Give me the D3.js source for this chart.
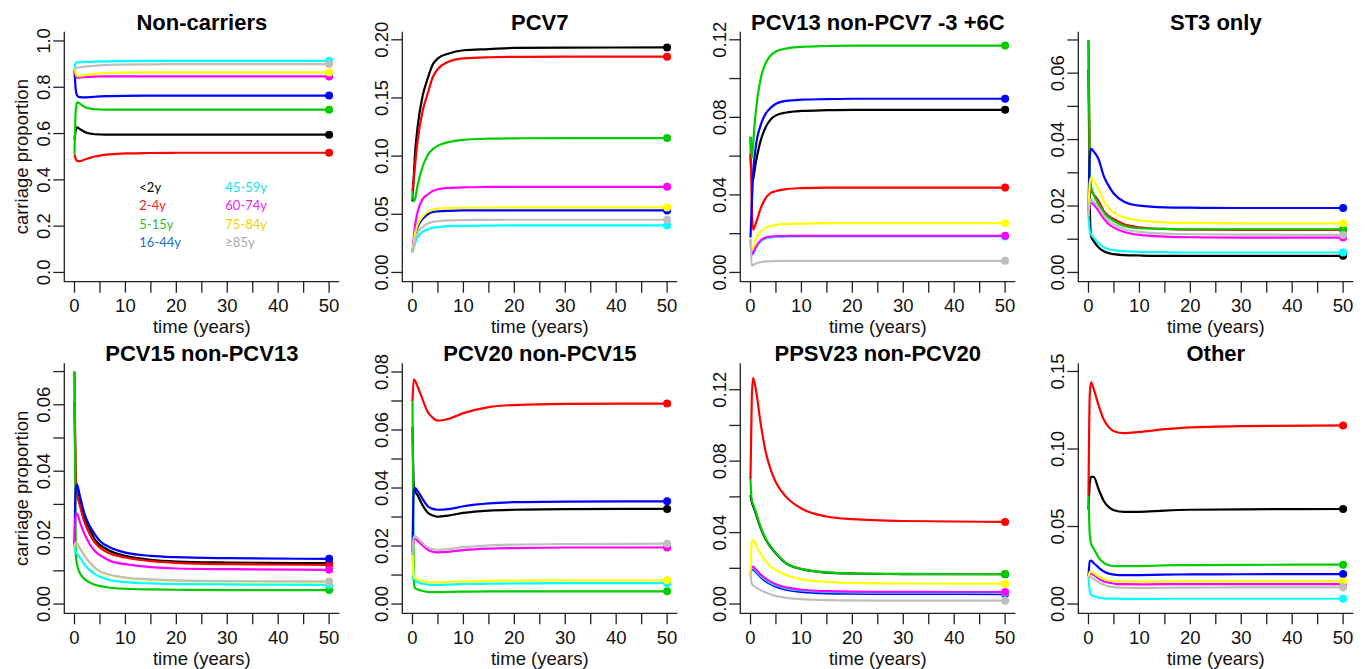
<!DOCTYPE html>
<meta charset="utf-8">
<head>
  <title>Carriage proportion by serotype group</title>
</head>
<style>
body { margin: 0; background: #fff; }
text { font-family: "Liberation Sans", Arial, sans-serif; fill: #111; }
.line { fill: none; stroke-width: 2.2px; stroke-linejoin: round; }
.box { fill: none; stroke: #222; stroke-width: 1.3px; }
.tick { stroke: #222; stroke-width: 1.3px; }
.ticklab { font-size: 18.5px; }
.axtitle { font-size: 18.5px; }
.title { font-size: 22px; font-weight: bold; fill: #000; }
.legend { font-family: Lato, "Open Sans", sans-serif; font-size: 13px; }
</style>
<body>

<script src="https://d3js.org/d3.v7.min.js"></script>
<script>

// time points (years) that every series below is read at
var years = [0, 0.25, 0.5, 1, 2, 3, 4, 5, 7, 10, 15, 20, 30, 50];

var ageGroups = ["<2y", "2-4y", "5-15y", "16-44y", "45-59y", "60-74y", "75-84y", "\u226585y"];
// R's old default palette, in plotting order
var lineColors = ["#000000", "#ff0000", "#00cd00", "#0000ff", "#00ffff", "#ff00ff", "#ffff00", "#bebebe"];
var legendColors = ["#000000", "#ee2222", "#33bb33", "#1f6fc0", "#11e3ee", "#ee22ee", "#e6d600", "#aaaaaa"];

var panelTitles = ["Non-carriers", "PCV7", "PCV13 non-PCV7 -3 +6C", "ST3 only",
                   "PCV15 non-PCV13", "PCV20 non-PCV15", "PPSV23 non-PCV20", "Other"];

// upper y limit of each panel (lower is 0)
var yMax = [1, 0.199, 0.1194, 0.0697, 0.0697, 0.0798, 0.1296, 0.1493];

var yTicks = [
  [0, 0.2, 0.4, 0.6, 0.8, 1.0],
  [0, 0.05, 0.10, 0.15, 0.20],
  [0, 0.02, 0.04, 0.06, 0.08, 0.10, 0.12],
  [0, 0.01, 0.02, 0.03, 0.04, 0.05, 0.06, 0.07],
  [0, 0.01, 0.02, 0.03, 0.04, 0.05, 0.06, 0.07],
  [0, 0.01, 0.02, 0.03, 0.04, 0.05, 0.06, 0.07, 0.08],
  [0, 0.02, 0.04, 0.06, 0.08, 0.10, 0.12],
  [0, 0.05, 0.10, 0.15]
];
var yLabels = [
  ["0.0", "0.2", "0.4", "0.6", "0.8", "1.0"],
  ["0.00", "0.05", "0.10", "0.15", "0.20"],
  ["0.00", "", "0.04", "", "0.08", "", "0.12"],
  ["0.00", "", "0.02", "", "0.04", "", "0.06", ""],
  ["0.00", "", "0.02", "", "0.04", "", "0.06", ""],
  ["0.00", "", "0.02", "", "0.04", "", "0.06", "", "0.08"],
  ["0.00", "", "0.04", "", "0.08", "", "0.12"],
  ["0.00", "0.05", "0.10", "0.15"]
];
var xTicks = [0, 5, 10, 15, 20, 25, 30, 35, 40, 45, 50];
var xLabels = ["0", "", "10", "", "20", "", "30", "", "40", "", "50"];

// series order: <2y, 2-4y, 5-15y, 16-44y, 45-59y, 60-74y, 75-84y, >=85y
var nonCarriers = [
  [0.573, 0.615, 0.627, 0.620, 0.607, 0.600, 0.597, 0.596, 0.595, 0.595, 0.595, 0.595, 0.595, 0.595],
  [0.510, 0.490, 0.482, 0.481, 0.488, 0.495, 0.501, 0.505, 0.510, 0.514, 0.516, 0.517, 0.517, 0.517],
  [0.510, 0.700, 0.735, 0.730, 0.715, 0.708, 0.705, 0.704, 0.703, 0.703, 0.703, 0.703, 0.703, 0.703],
  [0.874, 0.790, 0.765, 0.757, 0.756, 0.757, 0.759, 0.761, 0.762, 0.763, 0.764, 0.764, 0.764, 0.764],
  [0.881, 0.905, 0.908, 0.908, 0.909, 0.910, 0.911, 0.912, 0.912, 0.913, 0.914, 0.914, 0.914, 0.914],
  [0.881, 0.850, 0.842, 0.842, 0.844, 0.845, 0.846, 0.847, 0.847, 0.847, 0.847, 0.847, 0.847, 0.847],
  [0.881, 0.860, 0.850, 0.848, 0.852, 0.856, 0.858, 0.860, 0.862, 0.863, 0.864, 0.864, 0.864, 0.864],
  [0.881, 0.882, 0.884, 0.886, 0.889, 0.891, 0.893, 0.895, 0.897, 0.898, 0.899, 0.900, 0.900, 0.900]
];
var pcv7 = [
  [0.061, 0.082, 0.102, 0.125, 0.152, 0.167, 0.179, 0.184, 0.188, 0.191, 0.192, 0.193, 0.1933, 0.1934],
  [0.070, 0.080, 0.092, 0.113, 0.139, 0.154, 0.168, 0.175, 0.181, 0.184, 0.185, 0.1853, 0.1855, 0.1855],
  [0.070, 0.061, 0.063, 0.075, 0.091, 0.101, 0.106, 0.109, 0.112, 0.114, 0.115, 0.1153, 0.1155, 0.1155],
  [0.018, 0.025, 0.031, 0.039, 0.046, 0.050, 0.052, 0.0525, 0.053, 0.0533, 0.0533, 0.0533, 0.0533, 0.0533],
  [0.017, 0.021, 0.025, 0.030, 0.035, 0.037, 0.0385, 0.039, 0.0398, 0.040, 0.0403, 0.0404, 0.0404, 0.0404],
  [0.017, 0.030, 0.040, 0.052, 0.063, 0.067, 0.070, 0.0715, 0.0726, 0.0732, 0.0735, 0.0736, 0.0736, 0.0736],
  [0.017, 0.026, 0.033, 0.041, 0.048, 0.052, 0.054, 0.0548, 0.0553, 0.0556, 0.0558, 0.0559, 0.0559, 0.0559],
  [0.017, 0.023, 0.028, 0.034, 0.039, 0.042, 0.0435, 0.044, 0.0447, 0.045, 0.0452, 0.0453, 0.0453, 0.0453]
];
var pcv13 = [
  [0.061, 0.047, 0.048, 0.056, 0.068, 0.075, 0.079, 0.081, 0.0825, 0.0833, 0.0837, 0.0839, 0.0839, 0.0839],
  [0.070, 0.035, 0.022, 0.025, 0.033, 0.0385, 0.041, 0.042, 0.043, 0.0435, 0.0438, 0.0438, 0.0438, 0.0438],
  [0.070, 0.059, 0.066, 0.082, 0.100, 0.108, 0.112, 0.114, 0.1155, 0.1163, 0.1168, 0.117, 0.117, 0.117],
  [0.018, 0.035, 0.050, 0.064, 0.076, 0.082, 0.085, 0.087, 0.0885, 0.0891, 0.0894, 0.0896, 0.0896, 0.0896],
  [0.017, 0.009, 0.0095, 0.0125, 0.016, 0.0175, 0.018, 0.0183, 0.0185, 0.0186, 0.0186, 0.0186, 0.0186, 0.0186],
  [0.017, 0.0095, 0.010, 0.013, 0.0165, 0.018, 0.0185, 0.0187, 0.0188, 0.0189, 0.0189, 0.0189, 0.0189, 0.0189],
  [0.017, 0.012, 0.013, 0.017, 0.021, 0.023, 0.024, 0.0245, 0.025, 0.0252, 0.0254, 0.0254, 0.0254, 0.0254],
  [0.017, 0.0035, 0.0038, 0.0045, 0.0053, 0.0057, 0.0058, 0.0059, 0.006, 0.006, 0.006, 0.006, 0.006, 0.006]
];
var st3 = [
  [0.061, 0.020, 0.011, 0.0095, 0.0075, 0.0064, 0.0058, 0.0055, 0.0052, 0.0051, 0.005, 0.005, 0.005, 0.005],
  [0.070, 0.030, 0.0245, 0.0235, 0.0215, 0.0185, 0.017, 0.016, 0.0145, 0.0136, 0.0131, 0.0129, 0.0128, 0.0128],
  [0.070, 0.030, 0.026, 0.0235, 0.0205, 0.018, 0.0165, 0.0155, 0.014, 0.0133, 0.0131, 0.013, 0.013, 0.013],
  [0.018, 0.035, 0.0372, 0.0365, 0.034, 0.029, 0.026, 0.0237, 0.0213, 0.0201, 0.0196, 0.0195, 0.0194, 0.0194],
  [0.017, 0.0125, 0.0115, 0.0105, 0.0088, 0.0076, 0.007, 0.0067, 0.0064, 0.0062, 0.0061, 0.006, 0.006, 0.006],
  [0.017, 0.0205, 0.021, 0.0205, 0.0185, 0.0162, 0.0145, 0.0135, 0.0122, 0.0113, 0.0108, 0.0106, 0.0105, 0.0105],
  [0.017, 0.027, 0.0285, 0.0275, 0.025, 0.0215, 0.0193, 0.018, 0.0165, 0.0157, 0.0151, 0.0149, 0.0148, 0.0148],
  [0.017, 0.021, 0.022, 0.0213, 0.0195, 0.0172, 0.0155, 0.0145, 0.013, 0.0122, 0.0117, 0.0115, 0.0114, 0.0113]
];
var pcv15 = [
  [0.061, 0.038, 0.035, 0.032, 0.026, 0.0225, 0.0195, 0.0178, 0.016, 0.0145, 0.0133, 0.0128, 0.0125, 0.0123],
  [0.070, 0.036, 0.033, 0.030, 0.0245, 0.021, 0.0185, 0.017, 0.0152, 0.014, 0.0129, 0.0124, 0.012, 0.0118],
  [0.070, 0.015, 0.012, 0.0095, 0.0075, 0.0065, 0.0058, 0.0054, 0.0049, 0.0046, 0.0044, 0.0043, 0.0042, 0.0042],
  [0.018, 0.035, 0.036, 0.033, 0.027, 0.0235, 0.021, 0.019, 0.017, 0.0155, 0.0145, 0.0141, 0.0138, 0.0136],
  [0.017, 0.0157, 0.0152, 0.0143, 0.0118, 0.0102, 0.009, 0.0082, 0.0072, 0.0066, 0.0062, 0.006, 0.0059, 0.0058],
  [0.017, 0.027, 0.0272, 0.025, 0.021, 0.018, 0.016, 0.0147, 0.013, 0.012, 0.0111, 0.0107, 0.0105, 0.0103],
  [0.017, 0.0184, 0.0182, 0.0169, 0.0144, 0.0124, 0.0109, 0.0098, 0.0087, 0.0079, 0.0073, 0.007, 0.0068, 0.0067],
  [0.017, 0.0185, 0.0183, 0.017, 0.0145, 0.0125, 0.011, 0.0099, 0.0088, 0.008, 0.0074, 0.0071, 0.0069, 0.0068]
];
var pcv20 = [
  [0.061, 0.041, 0.039, 0.0375, 0.034, 0.0315, 0.0305, 0.0301, 0.0305, 0.0314, 0.0322, 0.0325, 0.0327, 0.0328],
  [0.070, 0.0775, 0.077, 0.075, 0.0705, 0.0662, 0.0642, 0.0632, 0.0638, 0.0658, 0.0679, 0.0686, 0.069, 0.0691],
  [0.070, 0.008, 0.0055, 0.005, 0.0045, 0.0042, 0.0041, 0.0041, 0.0042, 0.0043, 0.0044, 0.0044, 0.0044, 0.0044],
  [0.018, 0.039, 0.040, 0.039, 0.0362, 0.0337, 0.0328, 0.0325, 0.0327, 0.0337, 0.0347, 0.0351, 0.0353, 0.0354],
  [0.017, 0.0088, 0.0082, 0.0076, 0.007, 0.0067, 0.0066, 0.0066, 0.0067, 0.0069, 0.007, 0.0071, 0.0072, 0.0072],
  [0.017, 0.022, 0.0225, 0.0218, 0.0202, 0.0187, 0.018, 0.0178, 0.018, 0.0186, 0.0191, 0.0193, 0.0195, 0.0195],
  [0.017, 0.0098, 0.0092, 0.0085, 0.0079, 0.0076, 0.0075, 0.0075, 0.0076, 0.0078, 0.008, 0.0081, 0.0082, 0.0082],
  [0.017, 0.023, 0.0235, 0.0228, 0.021, 0.0195, 0.0189, 0.0187, 0.0189, 0.0196, 0.0202, 0.0205, 0.0207, 0.0208]
];
var ppsv23 = [
  [0.061, 0.057, 0.055, 0.051, 0.0425, 0.0362, 0.0318, 0.0283, 0.0228, 0.0196, 0.0176, 0.0171, 0.0168, 0.0167],
  [0.070, 0.115, 0.1265, 0.121, 0.101, 0.085, 0.075, 0.068, 0.060, 0.0535, 0.049, 0.0475, 0.0465, 0.046],
  [0.070, 0.058, 0.056, 0.052, 0.043, 0.0365, 0.032, 0.0285, 0.0229, 0.0197, 0.0177, 0.0172, 0.0169, 0.0168],
  [0.018, 0.0192, 0.0192, 0.018, 0.015, 0.0127, 0.011, 0.0097, 0.008, 0.0068, 0.006, 0.0058, 0.0057, 0.0056],
  [0.017, 0.0198, 0.0202, 0.0188, 0.0158, 0.0135, 0.0118, 0.0105, 0.0088, 0.0076, 0.0068, 0.0065, 0.0064, 0.0063],
  [0.017, 0.0205, 0.021, 0.0195, 0.0165, 0.0142, 0.0124, 0.0111, 0.0093, 0.008, 0.0072, 0.0069, 0.0068, 0.0067],
  [0.017, 0.035, 0.036, 0.0335, 0.028, 0.024, 0.021, 0.019, 0.0162, 0.0138, 0.0124, 0.0118, 0.0115, 0.0114],
  [0.017, 0.0115, 0.0105, 0.0095, 0.0078, 0.0064, 0.0053, 0.0045, 0.0035, 0.0027, 0.0022, 0.002, 0.0019, 0.0019]
];
var other = [
  [0.061, 0.078, 0.082, 0.082, 0.074, 0.0665, 0.0625, 0.0605, 0.0594, 0.0595, 0.0603, 0.0608, 0.0611, 0.0613],
  [0.070, 0.135, 0.143, 0.139, 0.128, 0.119, 0.114, 0.1115, 0.1102, 0.111, 0.1128, 0.114, 0.1147, 0.1152],
  [0.070, 0.045, 0.039, 0.036, 0.030, 0.0265, 0.025, 0.0245, 0.0244, 0.0245, 0.0249, 0.0251, 0.0253, 0.0254],
  [0.018, 0.0275, 0.028, 0.0265, 0.0235, 0.021, 0.0196, 0.019, 0.0186, 0.0187, 0.019, 0.0191, 0.0192, 0.0193],
  [0.017, 0.0085, 0.0062, 0.0052, 0.0042, 0.0037, 0.0035, 0.0034, 0.0033, 0.0033, 0.0034, 0.0034, 0.0034, 0.0034],
  [0.017, 0.0195, 0.0198, 0.0188, 0.0165, 0.0147, 0.0137, 0.0132, 0.0128, 0.0127, 0.0128, 0.0129, 0.0129, 0.0129],
  [0.017, 0.0205, 0.021, 0.020, 0.0178, 0.0162, 0.0152, 0.0147, 0.0144, 0.0144, 0.0145, 0.0146, 0.0146, 0.0146],
  [0.017, 0.0175, 0.0172, 0.0162, 0.0141, 0.0124, 0.0114, 0.0109, 0.0105, 0.0104, 0.0105, 0.0106, 0.0107, 0.0107]
];

var panels = [nonCarriers, pcv7, pcv13, st3, pcv15, pcv20, ppsv23, other];

// layout: 4 x 2 grid of R-style plot regions
var plotW = 275, plotH = 250, colStep = 338;
var rowTop = [31.7, 363.3];

var svg = d3.select("body").append("svg")
    .attr("width", 1366)
    .attr("height", 669);

panels.forEach(function(series, p) {
  var col = p % 4, row = Math.floor(p / 4);
  var left = 64.3 + col * colStep, top = rowTop[row];
  var right = left + plotW, bottom = top + plotH;

  // R pads the data range by 4% on each side
  var x = d3.scaleLinear().domain([-2, 52]).range([left, right]);
  var y = d3.scaleLinear().domain([-0.04 * yMax[p], 1.04 * yMax[p]]).range([bottom, top]);

  var g = svg.append("g");

  // L-shaped box
  g.append("path")
      .attr("class", "box")
      .attr("d", "M" + left + "," + top + "V" + bottom + "H" + right);

  // y axis ticks + rotated labels
  yTicks[p].forEach(function(v, i) {
    g.append("line").attr("class", "tick")
        .attr("x1", left - 11).attr("x2", left)
        .attr("y1", y(v)).attr("y2", y(v));
    if (yLabels[p][i]) {
      g.append("text").attr("class", "ticklab")
          .attr("text-anchor", "middle")
          .attr("transform", "translate(" + (left - 14) + "," + y(v) + ") rotate(-90)")
          .text(yLabels[p][i]);
    }
  });

  // x axis ticks + labels
  xTicks.forEach(function(t, i) {
    g.append("line").attr("class", "tick")
        .attr("x1", x(t)).attr("x2", x(t))
        .attr("y1", bottom).attr("y2", bottom + 11);
    if (xLabels[i]) {
      g.append("text").attr("class", "ticklab")
          .attr("text-anchor", "middle")
          .attr("x", x(t)).attr("y", bottom + 30.5)
          .text(xLabels[i]);
    }
  });

  g.append("text").attr("class", "axtitle")
      .attr("text-anchor", "middle")
      .attr("x", (left + right) / 2).attr("y", bottom + 51.5)
      .text("time (years)");

  if (col === 0) {
    g.append("text").attr("class", "axtitle")
        .attr("text-anchor", "middle")
        .attr("transform", "translate(28," + (top + bottom) / 2 + ") rotate(-90)")
        .text("carriage proportion");
  }

  g.append("text").attr("class", "title")
      .attr("text-anchor", "middle")
      .attr("x", (left + right) / 2).attr("y", top - 2)
      .text(panelTitles[p]);

  var line = d3.line()
      .x(function(d, i) { return x(years[i]); })
      .y(function(d) { return y(d); })
      .curve(d3.curveMonotoneX);

  series.forEach(function(s, k) {
    g.append("path")
        .datum(s)
        .attr("class", "line")
        .style("stroke", lineColors[k])
        .attr("d", line);
  });

  // end points at t = 50
  series.forEach(function(s, k) {
    g.append("circle")
        .attr("cx", x(years[years.length - 1]))
        .attr("cy", y(s[s.length - 1]))
        .attr("r", 4)
        .style("fill", lineColors[k]);
  });

  // age group legend sits inside the first panel
  if (p === 0) {
    ageGroups.forEach(function(a, k) {
      g.append("text").attr("class", "legend")
          .attr("x", left + (k < 4 ? 75 : 161))
          .attr("y", top + 160 + (k % 4) * 18.5)
          .style("fill", legendColors[k])
          .text(a);
    });
  }
});

</script>
</body>
